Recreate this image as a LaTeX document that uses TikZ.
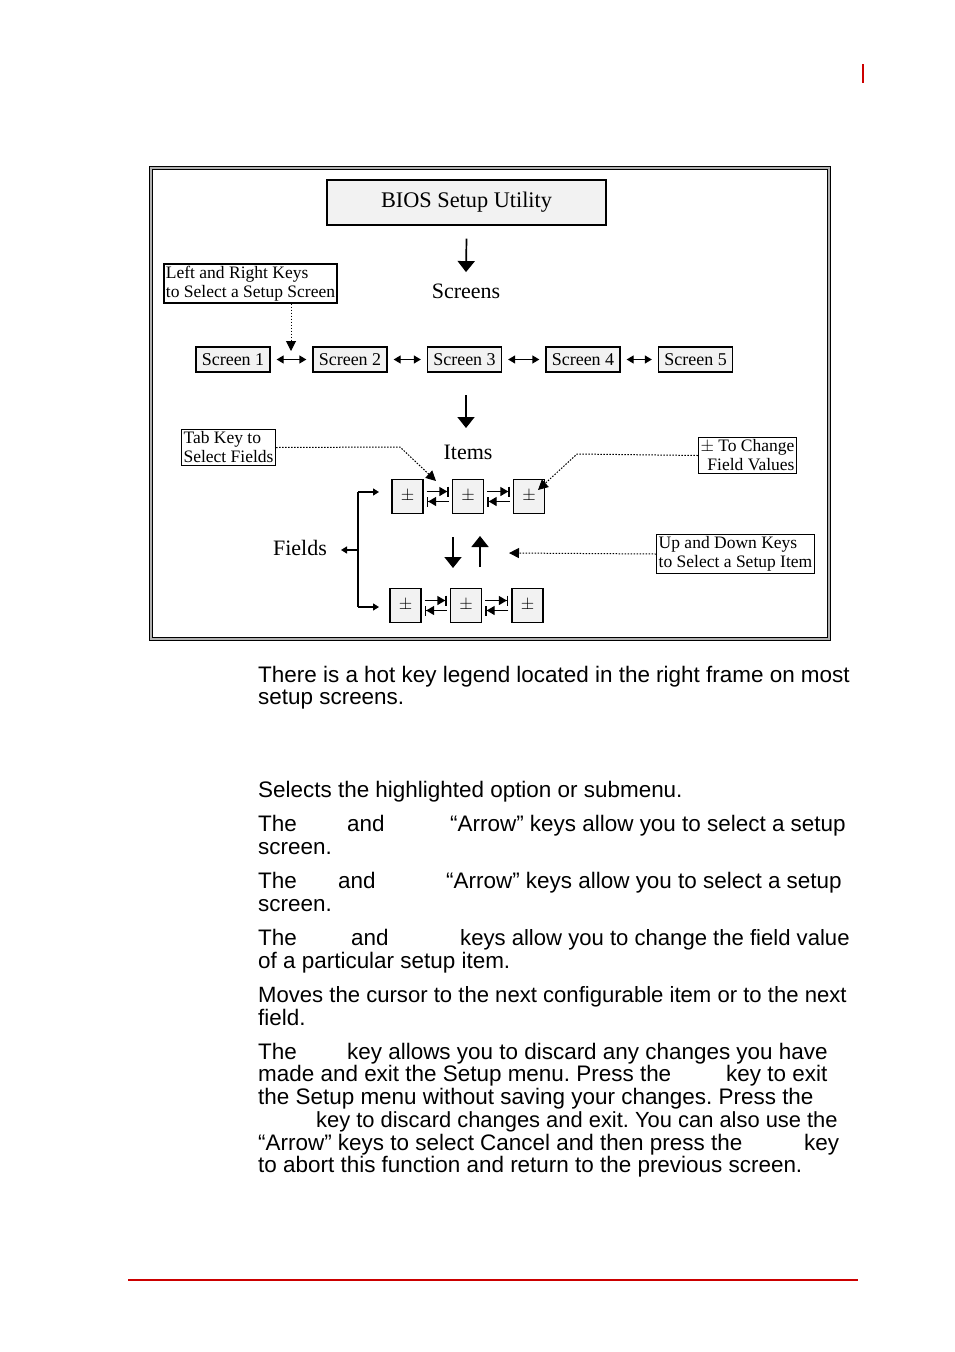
\documentclass[tikz,border=0pt]{standalone}
\usepackage{fontspec}
\setmainfont{Liberation Sans}
\newfontfamily\boxfont{Liberation Serif}
\usepackage{tikz}
\usetikzlibrary{positioning,arrows.meta}
\frenchspacing

\definecolor{pagered}{RGB}{204,0,0}
\definecolor{boxgrey}{RGB}{242,242,242}

\tikzset{
  keybox/.style={draw, fill=boxgrey, line width=1.3pt, inner sep=0pt,
    font=\boxfont\fontsize{18}{19}\selectfont},
  fieldbox/.style={draw, fill=boxgrey, line width=1.3pt, inner sep=0pt,
    minimum width=31pt, minimum height=34pt, font=\boxfont\fontsize{17}{17}\selectfont},
  notebox/.style={draw, line width=1.3pt, inner sep=2pt, align=left,
    font=\boxfont\fontsize{17.5}{19}\selectfont},
  biglabel/.style={font=\boxfont\fontsize{22}{24}\selectfont},
  bigarrow/.style={line width=1.7pt, -{Triangle[width=17pt,length=11pt]}},
  dblarrow/.style={line width=1.3pt, {Triangle[width=8pt,length=7pt]}-{Triangle[width=8pt,length=7pt]}},
  smallarrow/.style={line width=1.3pt, -{Triangle[width=7pt,length=6pt]}},
  tabarrow/.style={line width=1.3pt, -{Triangle[width=9pt,length=8pt]Bar[width=10pt,line width=1.5pt]}},
  leader/.style={line width=1pt, dash pattern=on 1.5pt off 1.5pt, -{Triangle[width=10pt,length=10pt]}},
  bodytext/.style={anchor=base west, inner sep=0pt, font=\fontsize{22.45}{22.5}\selectfont},
  tighttext/.style={bodytext, font=\fontsize{22.1}{22.5}\selectfont}
}

\begin{document}
\begin{tikzpicture}[x=1pt,y=-1pt]
\useasboundingbox (0,0) rectangle (954,1352);

% page marks
\draw[pagered, line width=2.5pt] (863,64) -- (863,83);
\draw[pagered, line width=2.5pt] (128,1280) -- (858,1280);

% frame of the figure
\draw[double=gray!60, double distance=2pt, line width=1pt] (151,168) rectangle (829,639);

% top of the tree
\node[keybox, minimum width=279pt, minimum height=45pt, font=\boxfont\fontsize{22.3}{24}\selectfont]
  (bios) at (466.5,202.5) {BIOS Setup Utility};
\node[biglabel] (screens) at (466,291) {Screens};
\draw[bigarrow] ([yshift=-13pt]bios.south) -- ([yshift=8pt]screens.north);

\node[notebox] (lrkeys) at (250.5,283.5) {Left and Right Keys\\to Select a Setup Screen};

% the five screens
\foreach \i/\x in {1/233,2/350,3/464.5,4/583,5/695.5}
  \node[keybox, minimum width=74pt, minimum height=25pt] (scr\i) at (\x,359.5) {Screen \i};
\foreach \i/\j in {1/2,2/3,3/4,4/5}
  \draw[dblarrow, shorten <=6pt, shorten >=6pt] (scr\i.east) -- (scr\j.west);

\coordinate (lrtip) at (291,351);
\draw[leader] (lrkeys.south -| lrtip) -- (lrtip);

% items
\node[biglabel] (items) at (468,452) {Items};
\draw[bigarrow] (466,395) -- (466,428);

% fields, two rows
\foreach \i/\x in {1/407.5,2/468,3/529}
  \node[fieldbox] (fa\i) at (\x,496.5) {$\pm$};
\foreach \i/\x in {1/405.5,2/466,3/527.5}
  \node[fieldbox] (fb\i) at (\x,605.5) {$\pm$};
\foreach \r in {a,b}
  \foreach \i/\j in {1/2,2/3}{
    \draw[tabarrow, shorten <=3pt, shorten >=3pt] ([yshift=5pt]f\r\i.east) -- ([yshift=5pt]f\r\j.west);
    \draw[tabarrow, shorten <=3pt, shorten >=3pt] ([yshift=-5pt]f\r\j.west) -- ([yshift=-5pt]f\r\i.east);
  }

\node[notebox] (tabkey) at (228.5,447.5) {Tab Key to\\Select Fields};
\coordinate (tabtip) at (436,481);
\draw[leader] (tabkey.east) -- (400,447) -- (tabtip);

\node[notebox, align=right] (change) at (747.5,455.5) {$\pm$ To Change\\Field Values};
\coordinate (changetip) at (538,490);
\draw[leader] (change.west) -- (577,454) -- (changetip);

% the bracket to the fields
\node[biglabel] (fields) at (300,548) {Fields};
\coordinate (brk) at (358,550);
\coordinate (brtop) at (379,492);
\coordinate (brbot) at (379,607);
\coordinate (fieldstip) at (341,550);
\draw[line width=1.3pt] (brk |- brtop) -- (brk |- brbot);
\draw[smallarrow] (brk |- brtop) -- (brtop);
\draw[smallarrow] (brk |- brbot) -- (brbot);
\draw[smallarrow] (brk) -- (fieldstip);

% up and down
\coordinate (dntop) at (453,537);
\coordinate (dnbot) at (453,568);
\coordinate (uptop) at (480,536);
\coordinate (upbot) at (480,567);
\draw[bigarrow] (dntop) -- (dnbot);
\draw[bigarrow] (upbot) -- (uptop);

\node[notebox] (updown) at (735.5,554) {Up and Down Keys\\to Select a Setup Item};
\coordinate (uptip) at (509,553);
\draw[leader] (updown.west) -- (uptip);

% text below the figure
\node[bodytext] (p1a) at (258,682) {There is a hot key legend located in the right frame on most};
\node[bodytext] (p1b) at (258,704) {setup screens.};
\node[bodytext] (p2) at (258,797) {Selects the highlighted option or submenu.};
\node[bodytext] (p3a) at (258,831) {The};
\node[bodytext] (p3b) at (347,831) {and};
\node[bodytext] (p3c) at (450,831) {“Arrow” keys allow you to select a setup};
\node[bodytext] (p3d) at (258,854) {screen.};
\node[bodytext] (p4a) at (258,888) {The};
\node[bodytext] (p4b) at (338,888) {and};
\node[bodytext] (p4c) at (446,888) {“Arrow” keys allow you to select a setup};
\node[bodytext] (p4d) at (258,911) {screen.};
\node[bodytext] (p5a) at (258,945) {The};
\node[bodytext] (p5b) at (351,945) {and};
\node[tighttext] (p5c) at (460,945) {keys allow you to change the field value};
\node[bodytext] (p5d) at (258,968) {of a particular setup item.};
\node[tighttext] (p6a) at (258,1002) {Moves the cursor to the next configurable item or to the next};
\node[bodytext] (p6b) at (258,1025) {field.};
\node[bodytext] (p7a) at (258,1059) {The};
\node[bodytext] (p7b) at (347,1059) {key allows you to discard any changes you have};
\node[bodytext] (p7c) at (258,1081) {made and exit the Setup menu. Press the};
\node[bodytext] (p7d) at (726,1081) {key to exit};
\node[bodytext] (p7e) at (258,1104) {the Setup menu without saving your changes. Press the};
\node[bodytext, font=\fontsize{21.9}{22.5}\selectfont] (p7f) at (316,1127) {key to discard changes and exit. You can also use the};
\node[bodytext] (p7g) at (258,1150) {“Arrow” keys to select Cancel and then press the};
\node[bodytext] (p7h) at (804,1150) {key};
\node[bodytext] (p7i) at (258,1172) {to abort this function and return to the previous screen.};
\end{tikzpicture}
\end{document}
